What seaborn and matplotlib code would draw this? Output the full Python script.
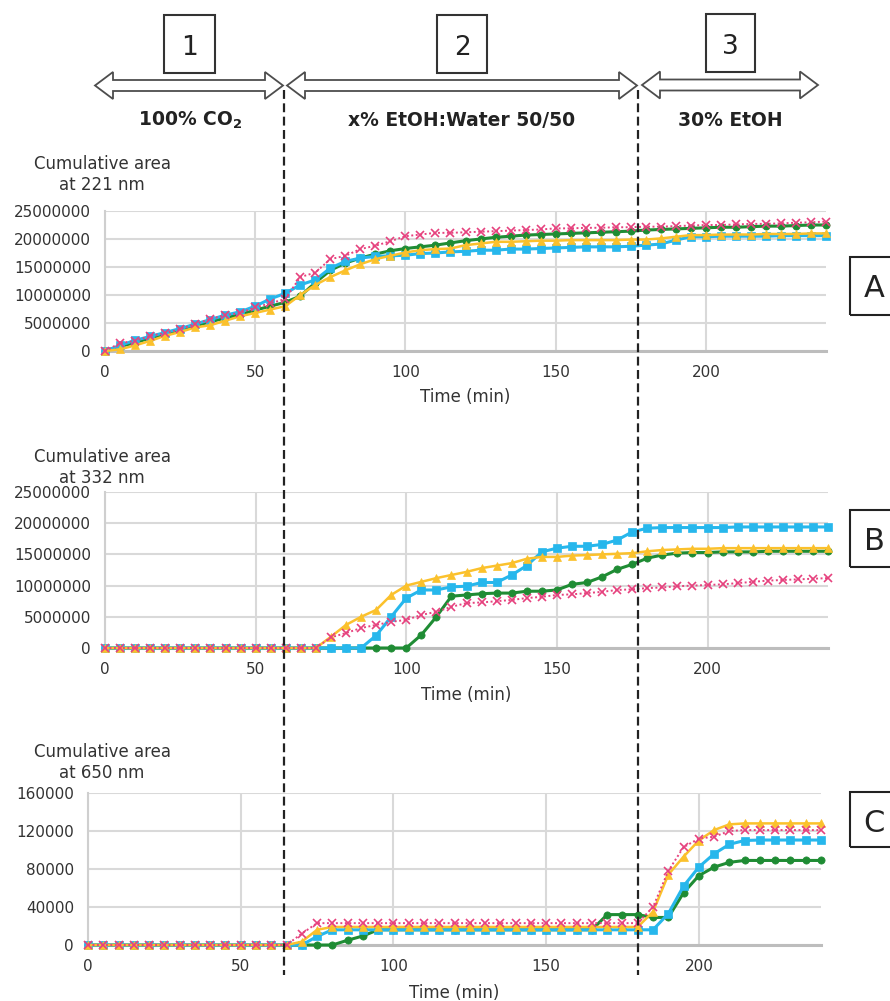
import numpy as np
import pandas as pd
import matplotlib
matplotlib.use("Agg")
import matplotlib.pyplot as plt
import seaborn as sns
from matplotlib.patches import Polygon, Rectangle
from matplotlib.lines import Line2D
from matplotlib.ticker import FuncFormatter

# sampling times (min)
times = np.arange(0, 241, 5)

# panel A - cumulative area at 221 nm (x 1e6)
a_green = [0, 0.8, 1.5, 2.3, 3.0, 3.7, 4.5, 5.2, 5.9, 6.5, 7.3, 8.0, 8.7,
           9.8, 12.2, 14.4, 15.7, 16.6, 17.3, 17.9, 18.3, 18.6, 18.9, 19.3,
           19.7, 20.0, 20.3, 20.5, 20.7, 20.8, 20.9, 21.0, 21.1, 21.2, 21.3, 21.4,
           21.6, 21.7, 21.8, 21.9, 22.0, 22.1, 22.1, 22.2, 22.3, 22.3, 22.4, 22.5, 22.5]
a_cyan = [0, 1.0, 1.9, 2.6, 3.3, 4.0, 4.8, 5.6, 6.4, 7.0, 8.0, 9.3, 10.3,
          11.8, 12.7, 14.8, 16.0, 16.6, 16.9, 17.0, 17.1, 17.4, 17.5, 17.7,
          17.8, 18.0, 18.0, 18.2, 18.2, 18.3, 18.4, 18.5, 18.6, 18.6, 18.6, 18.7,
          18.9, 19.1, 19.8, 20.4, 20.4, 20.5, 20.5, 20.5, 20.5, 20.6, 20.6, 20.6, 20.6]
a_yellow = [0, 0.3, 1.0, 1.8, 2.7, 3.4, 4.2, 4.6, 5.4, 6.2, 6.8, 7.4, 8.0,
            10.0, 11.8, 13.2, 14.4, 15.5, 16.4, 17.0, 17.6, 18.0, 18.2, 18.3,
            18.9, 19.2, 19.5, 19.5, 19.6, 19.7, 19.7, 19.8, 19.8, 19.8, 19.8, 19.9,
            19.9, 20.1, 20.4, 20.7, 20.7, 20.8, 20.8, 20.8, 20.9, 20.9, 20.9, 21.0, 21.0]
a_pink = [0, 1.4, 1.8, 2.7, 3.2, 3.9, 4.8, 5.7, 6.4, 6.8, 7.8, 8.5, 9.3,
          13.2, 14.0, 16.4, 17.0, 18.2, 18.8, 19.6, 20.5, 20.8, 21.1, 21.1,
          21.2, 21.3, 21.4, 21.5, 21.6, 21.7, 21.9, 21.9, 22.0, 22.0, 22.1, 22.1,
          22.2, 22.2, 22.3, 22.4, 22.5, 22.5, 22.6, 22.7, 22.7, 22.8, 22.9, 23.0, 23.1]

# panel B - cumulative area at 332 nm (x 1e6)
b_green = [0] * 21 + [2.1, 5.0, 8.3, 8.5, 8.7, 8.8, 8.8, 9.1, 9.1, 9.3, 10.2, 10.5,
                      11.4, 12.6, 13.4, 14.4, 14.9, 15.2,
                      15.3, 15.3, 15.4, 15.4, 15.4, 15.5, 15.5, 15.5, 15.5, 15.5]
b_cyan = [0] * 18 + [2.0, 5.0, 8.0, 9.3, 9.3, 9.8, 9.9, 10.5, 10.5, 11.7, 13.2, 15.4,
                     16.0, 16.3, 16.3, 16.6, 17.3, 18.6, 19.2,
                     19.3, 19.3, 19.3, 19.3, 19.3, 19.4, 19.4, 19.4, 19.4, 19.4, 19.4, 19.4]
b_yellow = [0] * 15 + [1.8, 3.7, 5.0, 6.1, 8.5, 10.0, 10.6, 11.2, 11.7, 12.2, 12.8, 13.2,
                       13.6, 14.3, 14.6, 14.6, 14.8, 14.9, 15.0, 15.1, 15.2, 15.5, 15.7,
                       15.8, 15.9, 15.9, 16.0, 16.0, 16.0, 16.0, 16.0, 16.0, 16.0, 16.0]
b_pink = [0] * 15 + [1.7, 2.4, 3.2, 3.7, 4.2, 4.5, 5.3, 5.8, 6.6, 7.2,
                     7.3, 7.5, 7.7, 8.0, 8.2, 8.5, 8.6, 8.8, 9.0, 9.3,
                     9.4, 9.6, 9.7, 9.9, 10.0, 10.1, 10.2, 10.4, 10.6, 10.8,
                     10.9, 11.0, 11.1, 11.2]

# panel C - cumulative area at 650 nm (x 1e3)
c_green = [0] * 17 + [5, 9.5, 16] + [16] * 13 + [16, 32, 32, 32, 29, 29, 55, 73, 82, 87] + [89] * 6
c_cyan = [0] * 15 + [9] + [16] * 21 + [16, 33, 62, 82, 96, 106, 110] + [110.5] * 5
c_yellow = [0] * 14 + [3.5, 16] + [19] * 21 + [35, 74, 93, 110, 121, 127] + [128] * 6
c_pink = [0] * 14 + [12, 23] + [23] * 21 + [40, 78, 103, 112, 114, 120] + [121] * 6

series_names = ["green", "cyan", "yellow", "pink"]
colors = {"green": "#1f8c34", "cyan": "#27b7ec", "yellow": "#fbc12c", "pink": "#e6427e"}
markers = {"green": "o", "cyan": "s", "yellow": "^", "pink": "x"}
msizes = {"green": 5.2, "cyan": 5.2, "yellow": 5.8, "pink": 5.8}
lstyles = {"green": "-", "cyan": "-", "yellow": "-", "pink": (0, (1, 1.3))}
lwidths = {"green": 2.2, "cyan": 2.2, "yellow": 1.8, "pink": 1.4}

panels = {
    "A": [a_green, a_cyan, a_yellow, a_pink],
    "B": [b_green, b_cyan, b_yellow, b_pink],
    "C": [c_green, c_cyan, c_yellow, c_pink],
}

rows = []
for p, vals in panels.items():
    for name, v in zip(series_names, vals):
        for t, y in zip(times, v):
            rows.append((p, name, t, y))
df = pd.DataFrame(rows, columns=["panel", "series", "time", "area"])

sns.set_style("white")
plt.rcParams["font.family"] = ["DejaVu Sans"]

W, H = 890, 1001
fig = plt.figure(figsize=(W / 100, H / 100), dpi=100)


def fx(x):
    return x / W


def fy(y):
    return 1 - y / H


# axes rects in pixel units: left, right, top, bottom
rects = {"A": (105, 826, 211, 351), "B": (105, 828, 492, 648), "C": (88, 821, 793, 945)}
ylims = {"A": (0, 25), "B": (0, 25), "C": (0, 160)}
yticks = {"A": [0, 5, 10, 15, 20, 25], "B": [0, 5, 10, 15, 20, 25], "C": [0, 40, 80, 120, 160]}
scale = {"A": 1e6, "B": 1e6, "C": 1e3}
ylabels = {"A": "Cumulative area\nat 221 nm", "B": "Cumulative area\nat 332 nm",
           "C": "Cumulative area\nat 650 nm"}
ylabel_y = {"A": 174.5, "B": 467.5, "C": 762.5}
xlabel_y = {"A": 397, "B": 695, "C": 993}

for p in ["A", "B", "C"]:
    l, r, t, b = rects[p]
    ax = fig.add_axes([fx(l), fy(b), (r - l) / W, (b - t) / H])
    sub = df[df["panel"] == p]
    for i, name in enumerate(series_names):
        s = sub[sub["series"] == name]
        sns.lineplot(data=s, x="time", y="area", ax=ax, color=colors[name],
                     marker=markers[name], markersize=msizes[name],
                     markeredgecolor=colors[name],
                     markeredgewidth=1.2 if name == "pink" else 0.5,
                     linestyle=lstyles[name], linewidth=lwidths[name],
                     errorbar=None, clip_on=False, zorder=3 + i)
    ax.set_xlim(0, 240)
    ax.set_ylim(*ylims[p])
    ax.set_xticks([0, 50, 100, 150, 200])
    ax.set_yticks(yticks[p])
    sc = scale[p]
    ax.yaxis.set_major_formatter(FuncFormatter(lambda v, pos, sc=sc: f"{v * sc:.0f}"))
    ax.set_xlabel("")
    ax.set_ylabel("")
    ax.grid(True, color="#d9d9d9", linewidth=1.5)
    ax.set_axisbelow(True)
    for sp in ["top", "right"]:
        ax.spines[sp].set_visible(False)
    ax.spines["left"].set_color("#cfcfcf")
    ax.spines["left"].set_linewidth(1.5)
    ax.spines["bottom"].set_color("#bdbdbd")
    ax.spines["bottom"].set_linewidth(2.2)
    ax.tick_params(length=0, labelsize=11, labelcolor="#333333", pad=10)

    fig.text(fx(102), fy(ylabel_y[p]), ylabels[p], ha="center", va="center",
             fontsize=12, color="#333333", linespacing=1.25)
    fig.text(fx((l + r) / 2), fy(xlabel_y[p]), "Time (min)", ha="center", va="center",
             fontsize=12, color="#333333")

# panel letters in boxes on the right
letter_boxes = {"A": (257, 315, 297), "B": (510, 567, 550), "C": (792, 847, 832)}
for p, (top, bot, base) in letter_boxes.items():
    fig.add_artist(Rectangle((fx(850), fy(bot)), 50 / W, (bot - top) / H,
                             transform=fig.transFigure, fill=False, ec="#222222", lw=1.5))
    fig.text(fx(874), fy(base), p, ha="center", va="baseline", fontsize=22, color="#222222")


# header: numbered boxes, double arrows and phase labels
def double_arrow(x0, x1, yc, hl=18, hh=13.5, sh=5.5):
    pts = [(x0, yc), (x0 + hl, yc - hh), (x0 + hl, yc - sh), (x1 - hl, yc - sh),
           (x1 - hl, yc - hh), (x1, yc), (x1 - hl, yc + hh), (x1 - hl, yc + sh),
           (x0 + hl, yc + sh), (x0 + hl, yc + hh)]
    pts = [(fx(x), fy(y)) for x, y in pts]
    fig.add_artist(Polygon(pts, closed=True, transform=fig.transFigure,
                           fc="white", ec="#4d4d4d", lw=1.3))


double_arrow(95, 283, 85.5)
double_arrow(287, 637, 85.5)
double_arrow(642, 818, 85)

num_boxes = [("1", 164, 215, 15, 73, 55), ("2", 437, 487, 15, 73, 55), ("3", 706, 755, 14, 72, 54)]
for txt, x0, x1, y0, y1, base in num_boxes:
    fig.add_artist(Rectangle((fx(x0), fy(y1)), (x1 - x0) / W, (y1 - y0) / H,
                             transform=fig.transFigure, fill=True, fc="white",
                             ec="#333333", lw=1.5))
    fig.text(fx((x0 + x1) / 2), fy(base), txt, ha="center", va="baseline",
             fontsize=19, color="#222222")

phase_labels = [(190, r"100% CO$_\mathbf{2}$"), (462, "x% EtOH:Water 50/50"), (730, "30% EtOH")]
for x, txt in phase_labels:
    fig.text(fx(x), fy(126), txt, ha="center", va="baseline", fontsize=13.5,
             fontweight="bold", color="#222222")

# phase boundaries
for x in [284, 638]:
    fig.add_artist(Line2D([fx(x), fx(x)], [fy(90), fy(975)], transform=fig.transFigure,
                          color="#222222", lw=1.6, linestyle=(0, (4, 2)), zorder=10))

fig.savefig("out.png", dpi=100)
